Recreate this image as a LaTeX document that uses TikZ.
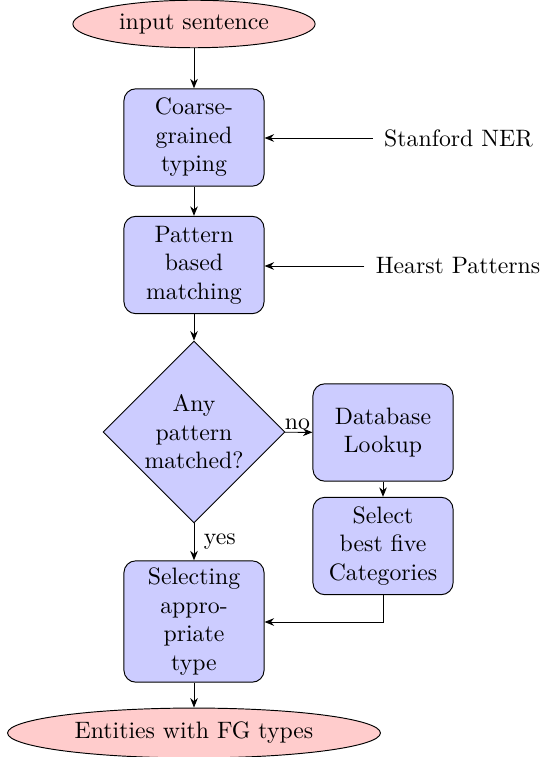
\documentclass[tikz,border=0pt]{standalone}
\usetikzlibrary{shapes.geometric,arrows.meta}
\begin{document}
\begin{tikzpicture}[x=0.42105pt,y=-0.42105pt,
  every node/.style={font=\normalsize},
  term/.style={ellipse,draw,fill=red!20,inner sep=0pt},
  blk/.style={rectangle,draw,fill=blue!20,rounded corners=5pt,text width=52pt,align=center,minimum width=59pt,minimum height=41pt,inner sep=3pt},
  dec/.style={diamond,draw,fill=blue!20,align=center,inner sep=0pt,minimum width=76.6pt,minimum height=76.6pt},
  src/.style={inner sep=4.6pt},
  conn/.style={draw,-{Stealth[length=4pt,width=3.2pt]}}
]
\useasboundingbox (0,0) rectangle (544,757);
\node[term,minimum width=102pt,minimum height=20pt] (in) at (194,24) {input sentence};
\node[blk] (coarse) at (194,137.5) {Coarse-\\grained\\typing};
\node[blk] (pat) at (194,265) {Pattern\\based\\matching};
\node[dec] (any) at (194,432) {Any\\pattern\\matched?};
\node[blk] (db) at (383,432.5) {Database\\Lookup};
\node[blk] (best) at (383,546) {Select\\best five\\Categories};
\node[blk] (sel) at (194,621.5) {Selecting\\appro-\\priate\\type};
\node[term,minimum width=157pt,minimum height=21pt] (out) at (194,733) {Entities with FG types};
\node[src] (ner) at (458.5,138) {Stanford NER};
\node[src] (hp) at (458,266) {Hearst Patterns};
\coordinate (corner) at (383,622);
\path[conn] (in) -- (coarse);
\path[conn] (coarse) -- (pat);
\path[conn] (pat) -- (any);
\path[conn] (any) -- node[above,pos=0.45,inner sep=1pt] {no} (db);
\path[conn] (any) -- node[right,inner sep=4pt] {yes} (sel);
\path[conn] (db) -- (best);
\path[conn] (best.south) -- (corner) -- (sel.east |- corner);
\path[conn] (sel) -- (out);
\path[conn] (ner.west) -- (coarse.east |- ner.west);
\path[conn] (hp.west) -- (pat.east |- hp.west);
\end{tikzpicture}
\end{document}
